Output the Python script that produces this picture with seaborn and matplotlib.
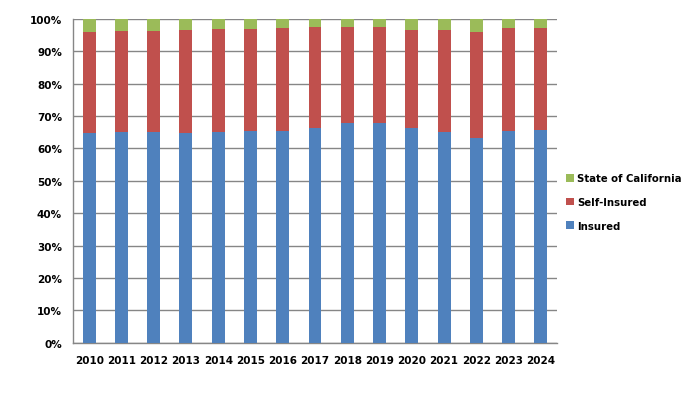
import numpy as np
import pandas as pd
import matplotlib
matplotlib.use('Agg')
import matplotlib.pyplot as plt
import seaborn as sns
from matplotlib.ticker import PercentFormatter, FixedLocator

years = ['2010', '2011', '2012', '2013', '2014', '2015', '2016', '2017',
         '2018', '2019', '2020', '2021', '2022', '2023', '2024']
insured = [64.8, 65.0, 65.0, 64.8, 65.0, 65.4, 65.4, 66.3,
           67.9, 67.9, 66.3, 65.0, 63.1, 65.4, 65.6]
self_insured = [31.1, 31.2, 31.2, 31.7, 31.8, 31.4, 31.7, 31.1,
                29.5, 29.5, 30.2, 31.5, 32.8, 31.7, 31.5]
state = [4.1, 3.8, 3.8, 3.5, 3.2, 3.2, 2.9, 2.6,
         2.6, 2.6, 3.5, 3.5, 4.1, 2.9, 2.9]

colors = {'Insured': '#4F81BD', 'Self-Insured': '#C0504D', 'State of California': '#9BBB59'}

df = pd.DataFrame({'year': years, 'Insured': insured,
                   'Self-Insured': self_insured, 'State of California': state})
df['top_red'] = df['Insured'] + df['Self-Insured']
df['top_green'] = df['top_red'] + df['State of California']

sns.set_style('white')
plt.rcParams['font.family'] = ['DejaVu Sans']
plt.rcParams['font.weight'] = 'bold'
plt.rcParams['text.color'] = 'black'
plt.rcParams['xtick.color'] = 'black'
plt.rcParams['ytick.color'] = 'black'

fig = plt.figure(figsize=(6.92, 4.06), dpi=100)
ax = fig.add_axes([0.1055, 0.153, 0.6995, 0.798])

# back-to-front layering gives the stacked look
sns.barplot(data=df, x='year', y='top_green', color=colors['State of California'],
            width=0.4, saturation=1, ax=ax, label='State of California', zorder=3,
            linewidth=0)
sns.barplot(data=df, x='year', y='top_red', color=colors['Self-Insured'],
            width=0.4, saturation=1, ax=ax, label='Self-Insured', zorder=3,
            linewidth=0)
sns.barplot(data=df, x='year', y='Insured', color=colors['Insured'],
            width=0.4, saturation=1, ax=ax, label='Insured', zorder=3,
            linewidth=0)

ax.set_ylim(0, 100)
ax.set_xlim(-0.5, len(years) - 0.5)
ax.set_yticks(np.arange(0, 101, 10))
ax.yaxis.set_major_formatter(PercentFormatter(decimals=0))
ax.yaxis.grid(True, color='#868686', linewidth=1, zorder=0)
ax.set_axisbelow(True)
ax.set_xlabel('')
ax.set_ylabel('')

for s in ['top', 'right']:
    ax.spines[s].set_visible(False)
for s in ['left', 'bottom']:
    ax.spines[s].set_color('#868686')
    ax.spines[s].set_linewidth(1)

ax.tick_params(axis='y', which='major', direction='out', length=5, color='#868686',
               labelsize=7.5, pad=3, labelcolor='black')
ax.tick_params(axis='x', which='major', length=0, labelsize=7.5, pad=9, labelcolor='black')
ax.xaxis.set_minor_locator(FixedLocator(np.arange(-0.5, len(years), 1)))
ax.tick_params(axis='x', which='minor', direction='out', length=5, color='#868686')
for lab in ax.get_xticklabels() + ax.get_yticklabels():
    lab.set_fontweight('bold')

ax.legend(loc='center left', bbox_to_anchor=(1.0, 0.435), frameon=False,
          handlelength=0.8, handleheight=0.8, handletextpad=0.3,
          labelspacing=1.35, prop={'weight': 'bold', 'size': 7.3})

fig.savefig('out.png', dpi=100, facecolor='white')
